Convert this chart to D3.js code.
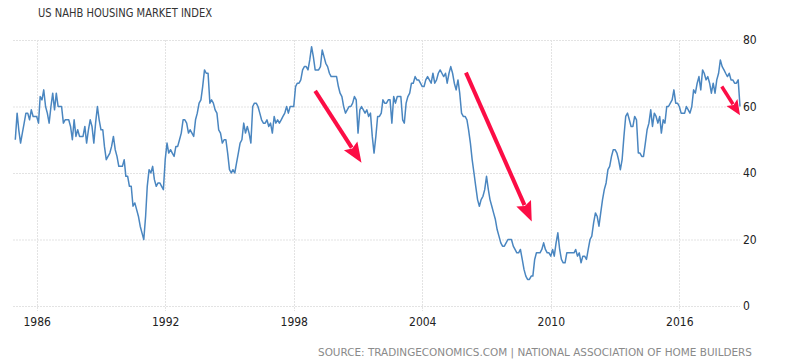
<!DOCTYPE html>
<html>
<head>
<meta charset="utf-8">
<script src="https://cdn.jsdelivr.net/npm/d3@7/dist/d3.min.js"></script>
<style>
  body { margin: 0; background: #fff; }
  svg text { font-family: 'DejaVu Sans', sans-serif; font-stretch: condensed; }
</style>
</head>
<body>
<div id="chart"></div>
<script>
// NAHB housing market index, monthly, Jan 1985 .. Nov 2018
var firstYear = 1985
var hmi = [
  50, 58, 53, 49, 52, 55, 58, 58, 56, 59, 57, 57, // 1985
  57, 55, 63, 62, 65, 60, 58, 55, 60, 64, 59, 64, // 1986
  60, 60, 60, 55, 56, 56, 56, 54, 50, 56, 51, 53, // 1987
  51, 51, 51, 54, 49, 53, 56, 54, 49, 55, 60, 56, // 1988
  53, 53, 48, 44, 45, 46, 48, 51, 47, 45, 42, 42, // 1989
  42, 44, 39, 39, 36, 36, 30, 31, 29, 27, 24, 22, // 1990
  20, 27, 36, 41, 40, 42, 38, 36, 37, 37, 36, 35, // 1991
  44, 49, 46, 47, 46, 45, 48, 48, 50, 52, 56, 56, // 1992
  55, 52, 53, 52, 51, 56, 58, 61, 62, 66, 71, 70, // 1993
  70, 61, 62, 61, 59, 58, 53, 52, 49, 50, 50, 46, // 1994
  41, 40, 41, 40, 43, 46, 49, 50, 55, 52, 54, 52, // 1995
  49, 60, 61, 61, 60, 58, 56, 55, 55, 56, 54, 55, // 1996
  52, 57, 55, 56, 55, 56, 57, 58, 60, 58, 60, 60, // 1997
  60, 66, 67, 67, 68, 71, 72, 72, 71, 74, 78, 75, // 1998
  71, 71, 71, 72, 77, 75, 73, 72, 70, 69, 69, 69, // 1999
  69, 66, 64, 63, 60, 58, 59, 60, 60, 61, 63, 62, // 2000
  52, 59, 60, 59, 58, 59, 57, 58, 51, 46, 51, 57, // 2001
  57, 58, 62, 61, 61, 62, 62, 55, 63, 61, 63, 63, // 2002
  63, 56, 55, 61, 63, 64, 67, 67, 69, 68, 68, 67, // 2003
  66, 66, 68, 69, 68, 67, 70, 67, 68, 70, 71, 70, // 2004
  69, 70, 67, 70, 72, 70, 67, 65, 68, 64, 58, 57, // 2005
  57, 56, 53, 49, 44, 40, 36, 32, 30, 32, 33, 35, // 2006
  39, 35, 32, 30, 28, 26, 23, 21, 19, 18, 18, 19, // 2007
  20, 20, 20, 18, 17, 16, 16, 17, 14, 11, 9, 8, // 2008
  8, 9, 9, 14, 16, 16, 16, 17, 19, 17, 16, 16, // 2009
  15, 17, 15, 19, 22, 17, 14, 13, 13, 16, 16, 16, // 2010
  16, 16, 17, 15, 16, 13, 15, 15, 14, 17, 20, 21, // 2011
  25, 28, 27, 24, 28, 32, 35, 37, 41, 42, 45, 47, // 2012
  47, 46, 44, 41, 44, 51, 57, 58, 56, 54, 54, 57, // 2013
  56, 46, 46, 45, 45, 49, 53, 55, 59, 54, 58, 57, // 2014
  55, 57, 52, 56, 55, 60, 60, 61, 62, 65, 61, 61, // 2015
  60, 58, 58, 58, 60, 59, 58, 60, 65, 64, 67, 69, // 2016
  65, 71, 70, 68, 69, 67, 64, 67, 64, 68, 70, 74, // 2017
  72, 71, 70, 69, 70, 68, 68, 67, 67, 68, 60 // 2018
]
var yTicks = [0, 20, 40, 60, 80]
var xTickYears = [1986, 1992, 1998, 2004, 2010, 2016]
// red arrows, given as [date, index value] at tail and tip
var arrowFrom = [['1999-01-01', 64.7], ['2006-01-15', 70.2], ['2017-12-25', 66]]
var arrowTo = [['2001-03-01', 43.1], ['2009-02-10', 25.4], ['2018-11-01', 57.4]]
var arrowHead = [[20, 8], [20, 8], [15, 6.5]]

var w = 800
var h = 363

var svg = d3.select('#chart')
  .append('svg')
  .attr('width', w)
  .attr('height', h)

var data = hmi.map(function (v, i) {
  return { date: new Date(firstYear, i, 1), value: v }
})

var x = d3.scaleTime()
  .domain(d3.extent(data, function (d) { return d.date }))
  .range([15.3, 740])

var y = d3.scaleLinear()
  .domain([0, 80])
  .range([306, 40])

var gridColor = '#e3e3e3'

// horizontal grid
svg.selectAll('line.hgrid')
  .data(yTicks)
  .enter()
  .append('line')
  .attr('class', 'hgrid')
  .attr('x1', 13)
  .attr('x2', 740)
  .attr('y1', function (d) { return y(d) + 0.5 })
  .attr('y2', function (d) { return y(d) + 0.5 })
  .attr('stroke', gridColor)
  .attr('stroke-dasharray', '2,1')

// vertical grid
svg.selectAll('line.vgrid')
  .data(xTickYears)
  .enter()
  .append('line')
  .attr('class', 'vgrid')
  .attr('x1', function (d) { return Math.round(x(new Date(d, 0, 1))) + 0.5 })
  .attr('x2', function (d) { return Math.round(x(new Date(d, 0, 1))) + 0.5 })
  .attr('y1', y(80))
  .attr('y2', 311)
  .attr('stroke', gridColor)
  .attr('stroke-dasharray', '2,1')

// axes labels only
var yAxis = svg.append('g')
  .attr('transform', 'translate(740,0)')
  .call(d3.axisRight(y).tickValues(yTicks).tickSize(0).tickPadding(3))
yAxis.select('.domain').remove()
yAxis.selectAll('text')
  .attr('font-size', 12)
  .attr('fill', '#222')
  .style('font-family', null)

var xAxis = svg.append('g')
  .attr('transform', 'translate(0,313)')
  .call(d3.axisBottom(x)
    .tickValues(xTickYears.map(function (d) { return new Date(d, 0, 1) }))
    .tickFormat(d3.timeFormat('%Y'))
    .tickSize(0)
    .tickPadding(4))
xAxis.select('.domain').remove()
xAxis.selectAll('text')
  .attr('font-size', 12)
  .attr('fill', '#222')

// the series
var line = d3.line()
  .x(function (d) { return x(d.date) })
  .y(function (d) { return y(d.value) })
  .curve(d3.curveLinear)

svg.append('path')
  .datum(data)
  .attr('d', line)
  .attr('fill', 'none')
  .attr('stroke', '#4a86c0')
  .attr('stroke-width', 1.5)
  .attr('stroke-linejoin', 'round')

// arrows
var parse = d3.timeParse('%Y-%m-%d')
var arrowColor = '#fc0d45'
for (let i = 0; i < arrowFrom.length; i++) {
  let x0 = x(parse(arrowFrom[i][0]))
  let y0 = y(arrowFrom[i][1])
  let x1 = x(parse(arrowTo[i][0]))
  let y1 = y(arrowTo[i][1])
  let len = Math.sqrt((x1 - x0) * (x1 - x0) + (y1 - y0) * (y1 - y0))
  let ux = (x1 - x0) / len
  let uy = (y1 - y0) / len
  let hl = arrowHead[i][0]
  let hw = arrowHead[i][1]
  let bx = x1 - ux * hl
  let by = y1 - uy * hl
  svg.append('line')
    .attr('x1', x0)
    .attr('y1', y0)
    .attr('x2', bx + ux * 2)
    .attr('y2', by + uy * 2)
    .attr('stroke', arrowColor)
    .attr('stroke-width', i === 2 ? 3.5 : 4)
  svg.append('path')
    .attr('d', 'M' + x1 + ',' + y1 +
      'L' + (bx - uy * hw) + ',' + (by + ux * hw) +
      'L' + (bx + ux * 3) + ',' + (by + uy * 3) +
      'L' + (bx + uy * hw) + ',' + (by - ux * hw) + 'Z')
    .attr('fill', arrowColor)
}

// title and source
svg.append('text')
  .attr('x', 38)
  .attr('y', 17)
  .attr('font-size', 11.5)
  .attr('fill', '#333')
  .attr('textLength', 174)
  .attr('lengthAdjust', 'spacingAndGlyphs')
  .text('US NAHB HOUSING MARKET INDEX')

svg.append('text')
  .attr('x', 318)
  .attr('y', 356)
  .attr('font-size', 11)
  .attr('fill', '#8a8a8a')
  .attr('textLength', 434)
  .attr('lengthAdjust', 'spacingAndGlyphs')
  .text('SOURCE: TRADINGECONOMICS.COM | NATIONAL ASSOCIATION OF HOME BUILDERS')
</script>
</body>
</html>
